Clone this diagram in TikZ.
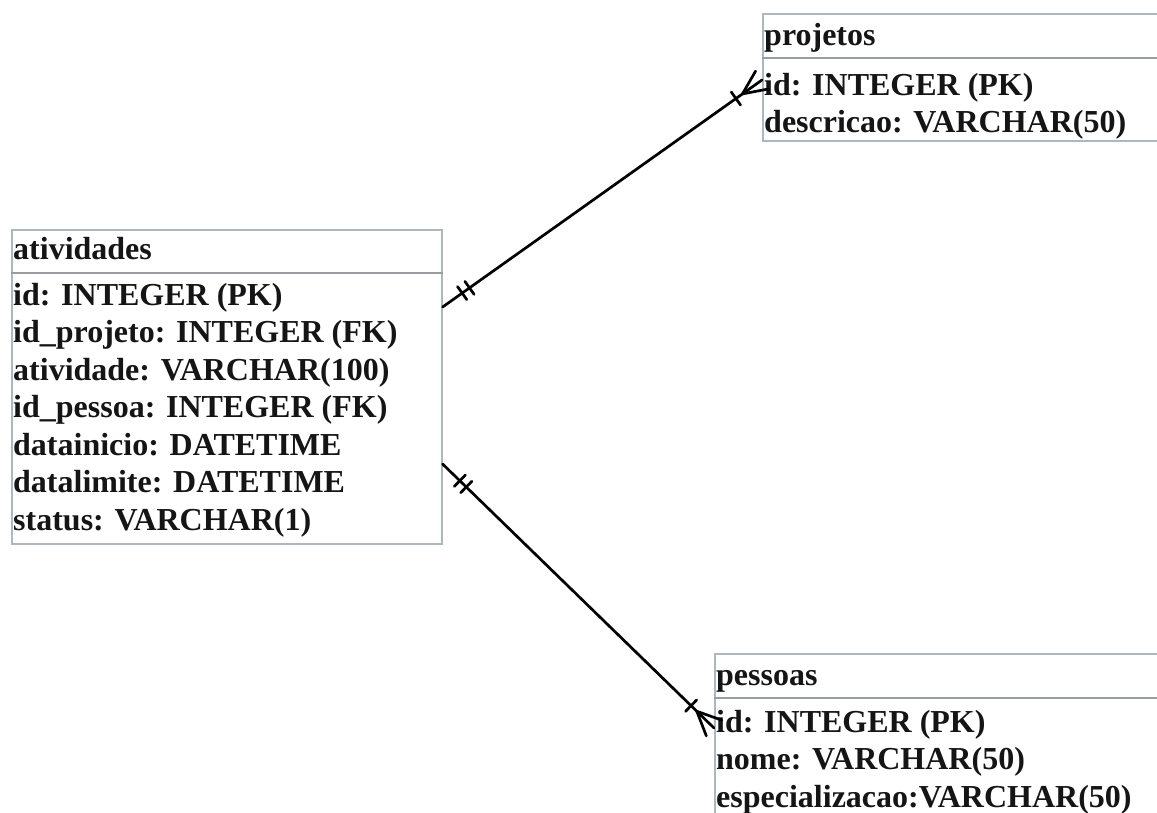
\documentclass[tikz,border=0pt]{standalone}
\usepackage{fontspec}
\setmainfont{Liberation Serif}
\usetikzlibrary{calc}
\definecolor{boxgray}{HTML}{AEB6BE}
\definecolor{sepgray}{HTML}{9A9EA2}
\definecolor{txt}{HTML}{151515}
\tikzset{
  tablebox/.style={draw=boxgray, line width=1.6pt, anchor=north west, inner sep=0pt, fill=white},
  sepline/.style={draw=sepgray, line width=1.8pt},
  fld/.style={anchor=base west, inner sep=0pt, text=txt, font=\fontsize{32}{38}\selectfont\bfseries},
  conn/.style={draw=black, line width=2.7pt, line cap=round},
}
\begin{document}
\begin{tikzpicture}[x=1pt,y=-1pt]
\useasboundingbox (0,0) rectangle (1157,812);
\clip (0,0) rectangle (1157,812);
\fill[white] (0,0) rectangle (1157,812);
% tables
\node[tablebox, minimum width=430pt, minimum height=314pt] (ativ) at (11,229) {};
\node[tablebox, minimum width=500pt, minimum height=127pt] (proj) at (762,13) {};
\node[tablebox, minimum width=500pt, minimum height=220pt] (pess) at (714,653) {};
\draw[sepline] ($(ativ.north west)+(0,44)$) -- ($(ativ.north east)+(0,44)$);
\draw[sepline] ($(proj.north west)+(0,45)$) -- ($(proj.north east)+(0,45)$);
\draw[sepline] ($(pess.north west)+(0,45)$) -- ($(pess.north east)+(0,45)$);
% atividades text
\node[fld] (ah) at (13,259) {atividades};
\node[fld] (a1t) at (13,305) {id: INTEGER (PK)};
\node[fld] (a2t) at (13,342.5) {id\_projeto: INTEGER (FK)};
\node[fld] (a3t) at (13,380) {atividade: VARCHAR(100)};
\node[fld] (a4t) at (13,417.5) {id\_pessoa: INTEGER (FK)};
\node[fld] (a5t) at (13,455) {datainicio: DATETIME};
\node[fld] (a6t) at (13,492.5) {datalimite: DATETIME};
\node[fld] (a7t) at (13,530) {status: VARCHAR(1)};
% projetos text
\node[fld] (ph) at (764,45) {projetos};
\node[fld] (p1t) at (764,95) {id: INTEGER (PK)};
\node[fld] (p2t) at (764,132) {descricao: VARCHAR(50)};
% pessoas text
\node[fld] (sh) at (716,685) {pessoas};
\node[fld] (s1t) at (716,732) {id: INTEGER (PK)};
\node[fld] (s2t) at (716,769.5) {nome: VARCHAR(50)};
\node[fld] (s3t) at (716,807) {especializacao:VARCHAR(50)};
% connector endpoints
\coordinate (ea1) at ($(ativ.north east)+(0,78)$);
\coordinate (ep1) at ($(proj.north west)+(0,67)$);
\coordinate (ea2) at ($(ativ.north east)+(0,235)$);
\coordinate (es2) at ($(pess.north west)+(0,75)$);
% connector atividades - projetos
\draw[conn] (ea1) -- (ep1);
\path ($(ea1)!24pt!(ep1)$) coordinate (t11) ($(ea1)!33pt!(ep1)$) coordinate (t12);
\draw[conn] ($(t11)!8pt!90:(ep1)$) -- ($(t11)!8pt!-90:(ep1)$);
\draw[conn] ($(t12)!8pt!90:(ep1)$) -- ($(t12)!8pt!-90:(ep1)$);
\path ($(ep1)!24pt!(ea1)$) coordinate (c1) ($(ep1)!32pt!(ea1)$) coordinate (b1);
\draw[conn] (c1) -- ($(ep1)!11pt!90:(ea1)$);
\draw[conn] (c1) -- ($(ep1)!11pt!-90:(ea1)$);
\draw[conn] ($(b1)!8pt!90:(ep1)$) -- ($(b1)!8pt!-90:(ep1)$);
% connector atividades - pessoas
\draw[conn] (ea2) -- (es2);
\path ($(ea2)!24pt!(es2)$) coordinate (t21) ($(ea2)!33pt!(es2)$) coordinate (t22);
\draw[conn] ($(t21)!8pt!90:(es2)$) -- ($(t21)!8pt!-90:(es2)$);
\draw[conn] ($(t22)!8pt!90:(es2)$) -- ($(t22)!8pt!-90:(es2)$);
\path ($(es2)!24pt!(ea2)$) coordinate (c2) ($(es2)!32pt!(ea2)$) coordinate (b2);
\draw[conn] (c2) -- ($(es2)!11pt!90:(ea2)$);
\draw[conn] (c2) -- ($(es2)!11pt!-90:(ea2)$);
\draw[conn] ($(b2)!8pt!90:(es2)$) -- ($(b2)!8pt!-90:(es2)$);
\end{tikzpicture}
\end{document}
